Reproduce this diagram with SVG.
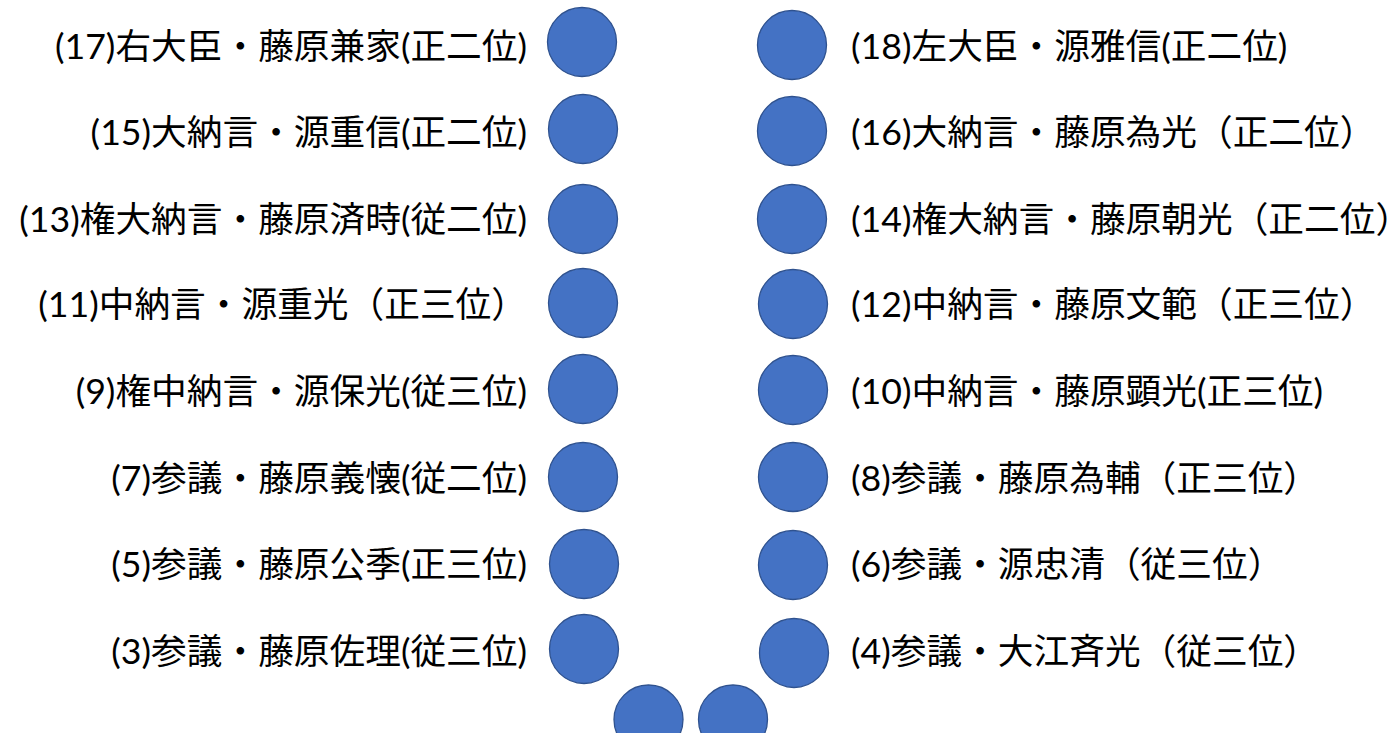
<svg xmlns="http://www.w3.org/2000/svg" width="1400" height="733" viewBox="0 0 1400 733">
<style>
.n{fill:#4472C4;stroke:#2F528F;stroke-width:1.3}
.t{font-family:"Lato","Noto Sans CJK JP",sans-serif;font-size:35.7px;fill:#000}
.l{text-anchor:end}
.r{text-anchor:start}
</style>
<rect width="1400" height="733" fill="#fff"/>
<g id="connectors"></g>
<g id="n17"><circle class="n" cx="582" cy="42" r="34.5"/><text class="t l" x="527" y="59">(17)右大臣・藤原兼家(正二位)</text></g>
<g id="n15"><circle class="n" cx="583" cy="129" r="34.5"/><text class="t l" x="527" y="145">(15)大納言・源重信(正二位)</text></g>
<g id="n13"><circle class="n" cx="583" cy="219" r="34.5"/><text class="t l" x="527" y="232">(13)権大納言・藤原済時(従二位)</text></g>
<g id="n11"><circle class="n" cx="583" cy="303" r="34.5"/><text class="t l" x="527" y="317">(11)中納言・源重光（正三位）</text></g>
<g id="n9"><circle class="n" cx="583" cy="389" r="34.5"/><text class="t l" x="527" y="404">(9)権中納言・源保光(従三位)</text></g>
<g id="n7"><circle class="n" cx="583" cy="477" r="34.5"/><text class="t l" x="527" y="491">(7)参議・藤原義懐(従二位)</text></g>
<g id="n5"><circle class="n" cx="584" cy="564" r="34.5"/><text class="t l" x="527" y="577">(5)参議・藤原公季(正三位)</text></g>
<g id="n3"><circle class="n" cx="584" cy="649" r="34.5"/><text class="t l" x="527" y="664">(3)参議・藤原佐理(従三位)</text></g>
<g id="n18"><circle class="n" cx="792" cy="45" r="34.5"/><text class="t r" x="851" y="59">(18)左大臣・源雅信(正二位)</text></g>
<g id="n16"><circle class="n" cx="792" cy="131" r="34.5"/><text class="t r" x="851" y="145">(16)大納言・藤原為光（正二位）</text></g>
<g id="n14"><circle class="n" cx="792" cy="219" r="34.5"/><text class="t r" x="851" y="232">(14)権大納言・藤原朝光（正二位）</text></g>
<g id="n12"><circle class="n" cx="793" cy="304" r="34.5"/><text class="t r" x="851" y="317">(12)中納言・藤原文範（正三位）</text></g>
<g id="n10"><circle class="n" cx="793" cy="390" r="34.5"/><text class="t r" x="851" y="404">(10)中納言・藤原顕光(正三位)</text></g>
<g id="n8"><circle class="n" cx="793" cy="477" r="34.5"/><text class="t r" x="851" y="491">(8)参議・藤原為輔（正三位）</text></g>
<g id="n6"><circle class="n" cx="793" cy="565" r="34.5"/><text class="t r" x="851" y="577">(6)参議・源忠清（従三位）</text></g>
<g id="n4"><circle class="n" cx="794" cy="653" r="34.5"/><text class="t r" x="851" y="664">(4)参議・大江斉光（従三位）</text></g>
<g id="n1"><circle class="n" cx="648.5" cy="719.5" r="34.5"/></g>
<g id="n2"><circle class="n" cx="733" cy="719.5" r="34.5"/></g>
</svg>
